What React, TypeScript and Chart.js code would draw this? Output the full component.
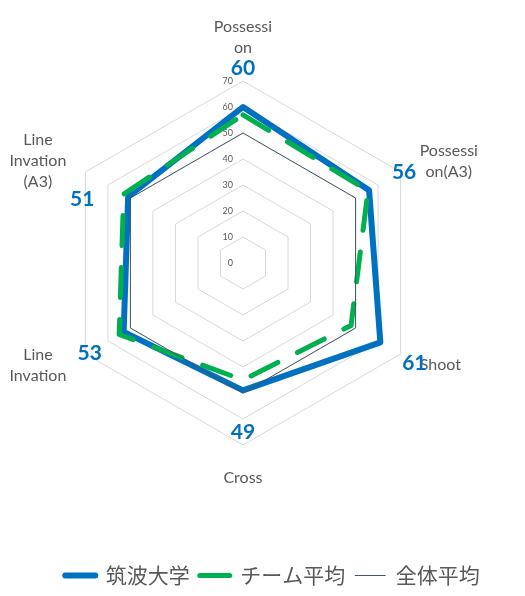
import React, { useEffect, useRef } from "react";
import { Chart, registerables } from "chart.js";

Chart.register(...registerables);

// ---- data ----
const categories: string[][] = [
  ["Possessi", "on"],
  ["Possessi", "on(A3)"],
  ["Shoot"],
  ["Cross"],
  ["Line", "Invation"],
  ["Line", "Invation", "(A3)"],
];
const seriesNames = ["筑波大学", "チーム平均", "全体平均"];
const tsukubaValues = [60, 56, 61, 49, 53, 51];
const teamAvgValues = [57, 55.5, 48, 45, 55, 53];
const overallAvgValues = [50, 50, 50, 50, 50, 50];
const axisMin = 0;
const axisMax = 70;
const axisStep = 10;

// ---- styles ----
const TEXT = "#595959";
const BLUE = "#0070C0";
const GREEN = "#00B050";
const NAVY = "#44546A";
const GRID = "#D9D9D9";
const LATIN = "Lato, 'Noto Sans', sans-serif";
const CJK = "'Noto Sans CJK JP', sans-serif";
const CENTER_X = 243;
const CENTER_Y = 263;
const RADIUS = 182;
// offsets of the value labels from their points (px)
const valueLabelOffsets = [
  [0, -39],
  [35, -18],
  [34, 21],
  [0, 42],
  [-34, 21],
  [-46, 3],
];

const labelPlugin = {
  id: "excelLabels",
  beforeDatasetsDraw(chart: any) {
    const scale = chart.scales.r;
    const ctx = chart.ctx;
    ctx.save();
    ctx.font = `9px ${LATIN}`;
    ctx.fillStyle = TEXT;
    ctx.textAlign = "right";
    ctx.textBaseline = "middle";
    scale.ticks.forEach((t: any) => {
      const d = scale.getDistanceFromCenterForValue(t.value);
      ctx.fillText(String(t.value), scale.xCenter - 10, scale.yCenter - d);
    });
    ctx.restore();
  },
  afterDraw(chart: any) {
    const scale = chart.scales.r;
    const ctx = chart.ctx;
    const R = scale.drawingArea;
    const lh = 21;
    ctx.save();
    ctx.font = `16px ${LATIN}`;
    ctx.fillStyle = TEXT;
    ctx.textAlign = "center";
    ctx.textBaseline = "middle";
    (chart.data.labels as string[][]).forEach((lines, i) => {
      const p = scale.getPointPosition(i, R + 22);
      const dx = p.x - scale.xCenter;
      const dy = p.y - scale.yCenter;
      const w = Math.max(...lines.map((l) => ctx.measureText(l).width));
      let cx = p.x;
      if (Math.abs(dx) >= 1) cx = dx > 0 ? p.x + w / 2 : p.x - w / 2;
      const h = lines.length * lh;
      let top: number;
      if (Math.abs(dx) < 1) top = dy < 0 ? p.y - 1 - h : p.y;
      else top = p.y - h / 2;
      lines.forEach((l, k) => ctx.fillText(l, cx, top + lh * k + lh / 2));
    });

    const meta = chart.getDatasetMeta(0);
    const values = chart.data.datasets[0].data as number[];
    ctx.font = `bold 21px ${LATIN}`;
    ctx.fillStyle = BLUE;
    meta.data.forEach((el: any, i: number) => {
      const [ox, oy] = valueLabelOffsets[i];
      ctx.fillText(String(values[i]), el.x + ox, el.y + oy);
    });
    ctx.restore();
  },
};

export default function App() {
  const ref = useRef<HTMLCanvasElement | null>(null);
  useEffect(() => {
    if (!ref.current) return;
    const chart = new Chart(ref.current, {
      type: "radar",
      data: {
        labels: categories as any,
        datasets: [
          {
            label: seriesNames[0],
            data: tsukubaValues,
            borderColor: BLUE,
            backgroundColor: "transparent",
            borderWidth: 6,
            borderJoinStyle: "round",
            borderCapStyle: "round",
            fill: false,
            pointRadius: 0,
            pointHoverRadius: 0,
            order: 3,
          },
          {
            label: seriesNames[1],
            data: teamAvgValues,
            borderColor: GREEN,
            backgroundColor: "transparent",
            borderWidth: 5,
            borderDash: [30, 22],
            borderCapStyle: "round",
            borderJoinStyle: "round",
            fill: false,
            pointRadius: 0,
            pointHoverRadius: 0,
            order: 2,
          },
          {
            label: seriesNames[2],
            data: overallAvgValues,
            borderColor: NAVY,
            backgroundColor: "transparent",
            borderWidth: 1,
            fill: false,
            pointRadius: 0,
            pointHoverRadius: 0,
            order: 1,
          },
        ],
      } as any,
      options: {
        animation: false,
        responsive: false,
        devicePixelRatio: 1,
        layout: { padding: { left: 20, right: 0, top: 0, bottom: 0 } },
        scales: {
          r: {
            min: axisMin,
            max: axisMax,
            ticks: { display: false, stepSize: axisStep },
            grid: { color: GRID, lineWidth: 1 },
            angleLines: { display: false },
            pointLabels: { display: false },
            afterFit: (scale: any) => {
              scale.drawingArea = RADIUS;
              scale.xCenter = CENTER_X;
              scale.yCenter = CENTER_Y;
            },
          } as any,
        },
        plugins: {
          tooltip: { enabled: false },
          legend: {
            position: "bottom",
            labels: {
              usePointStyle: true,
              pointStyleWidth: 30,
              padding: 10,
              color: TEXT,
              font: { family: CJK, size: 21 },
              sort: (a: any, b: any) => a.datasetIndex - b.datasetIndex,
              generateLabels: (c: any) => {
                const items = (Chart.defaults.plugins.legend.labels as any).generateLabels(c);
                return items.map((it: any) => ({
                  ...it,
                  pointStyle: "line",
                  lineDash: [],
                  lineCap: "round",
                }));
              },
            },
          },
        },
      } as any,
      plugins: [labelPlugin],
    });
    return () => chart.destroy();
  }, []);

  return (
    <div style={{ position: "fixed", left: 0, top: 0, width: 525, height: 596, background: "#fff" }}>
      <canvas ref={ref} width={525} height={596} />
    </div>
  );
}
